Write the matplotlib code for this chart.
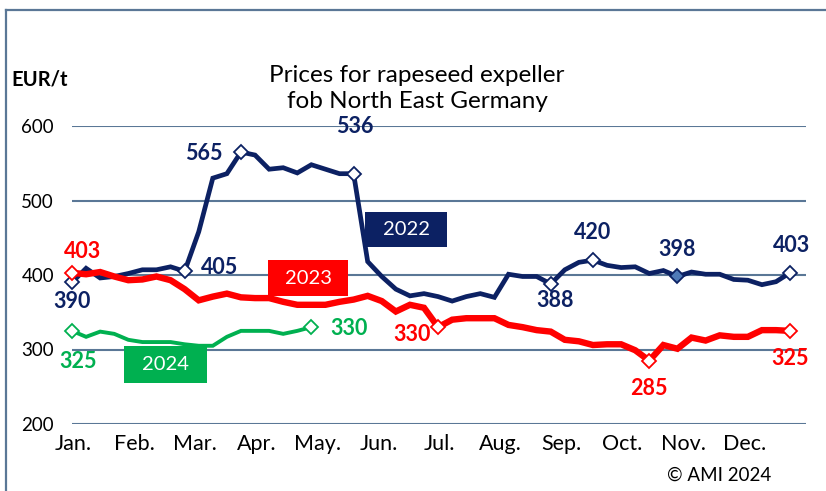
import matplotlib.pyplot as plt
from matplotlib.lines import Line2D
from matplotlib.patches import Rectangle

# weekly prices, EUR/t (52 weeks)
prices_2022 = [390, 409, 396, 398, 402, 407, 407, 411, 405, 458,
               530, 536, 565, 561, 542, 544, 537, 548, 542, 536,
               536, 418, 398, 381, 372, 375, 371, 365, 371, 375,
               370, 401, 398, 398, 388, 407, 417, 420, 413, 410,
               411, 402, 406, 398, 404, 401, 401, 394, 393, 387,
               391, 403]
prices_2023 = [403, 401, 404, 398, 393, 394, 398, 393, 381, 366,
               371, 375, 370, 369, 369, 364, 360, 360, 360, 364,
               367, 372, 365, 351, 360, 356, 330, 340, 342, 342,
               342, 333, 330, 326, 324, 313, 311, 306, 307, 307,
               299, 285, 306, 301, 316, 312, 319, 317, 317, 326,
               326, 325]
prices_2024 = [325, 317, 324, 321, 313, 310, 310, 310, 307, 305,
               305, 317, 325, 325, 325, 321, 325, 330]

months = ["Jan.", "Feb.", "Mar.", "Apr.", "May.", "Jun.",
          "Jul.", "Aug.", "Sep.", "Oct.", "Nov.", "Dec."]
yticks = [200, 300, 400, 500, 600]

# labelled points: (week index, label offset in px)
marks_2022 = [(0, 0, 19), (8, 35, -4), (12, -37, 1), (20, 1, -47),
              (34, 4, 17), (37, 0, -28), (43, 0, -27), (51, 1, -27)]
marks_2023 = [(0, 11, -21), (26, -26, 7), (41, 0, 28), (51, 0, 28)]
marks_2024 = [(0, 6, 31), (17, 38, 1)]

NAVY = "#0c2163"
RED = "#ff0000"
GREEN = "#00b050"
GRID = "#5a7796"

plt.rcParams["font.family"] = ["Lato", "DejaVu Sans"]

W, H = 826, 491
fig = plt.figure(figsize=(W / 100, H / 100), dpi=100)
ax = fig.add_axes([72 / W, 1 - 424 / H, (806 - 72) / W, (424 - 126) / H])
ax.set_xlim(0, 52.13)
ax.set_ylim(200, 600)

for s in ax.spines.values():
    s.set_visible(False)
ax.set_yticks(yticks)
ax.set_yticklabels([str(v) for v in yticks], fontsize=13.5)
ax.grid(axis="y", color=GRID, linewidth=1.5)
ax.set_axisbelow(True)
ax.set_xticks([k * 52 / 12 + 0.1 for k in range(12)])
ax.set_xticklabels(months, fontsize=15.5)
ax.tick_params(axis="y", length=0, pad=13)
ax.tick_params(axis="x", length=0, pad=7.5)


def draw(values, color, lw, marks, z):
    x = list(range(len(values)))
    ax.plot(x, values, color=color, linewidth=lw, solid_joinstyle="miter",
            zorder=z, clip_on=False)
    for i, dx, dy in marks:
        face = "#4f7ab8" if (color == NAVY and values[i] == 398) else "white"
        ax.plot(i, values[i], marker="D", markersize=7, markerfacecolor=face,
                markeredgecolor=color, markeredgewidth=1.3, zorder=z + 0.5,
                clip_on=False)
        ax.annotate(str(values[i]), (i, values[i]), xytext=(dx * 0.72, -dy * 0.72),
                    textcoords="offset points", ha="center", va="center",
                    color=color, fontsize=15.5, fontweight="bold",
                    annotation_clip=False)


draw(prices_2022, NAVY, 3.4, marks_2022, 3)
draw(prices_2024, GREEN, 2.8, marks_2024, 4)
draw(prices_2023, RED, 4.6, marks_2023, 5)

# legend boxes
for text, color, (x0, y0, x1, y1) in [("2022", NAVY, (365, 212, 447, 247)),
                                      ("2023", RED, (268, 260, 348, 296)),
                                      ("2024", GREEN, (124, 346, 207, 383))]:
    fig.add_artist(Rectangle((x0 / W, 1 - y1 / H), (x1 - x0) / W, (y1 - y0) / H,
                             transform=fig.transFigure, facecolor=color,
                             edgecolor="none", zorder=6))
    fig.text((x0 + x1) / 2 / W, 1 - (y0 + y1) / 2 / H, text, color="white",
             fontsize=14.5, ha="center", va="center", zorder=7)

fig.text(417 / W, 1 - 75 / H, "Prices for rapeseed expeller", fontsize=17.5,
         ha="center", va="center")
fig.text(417 / W, 1 - 102 / H, "fob North East Germany", fontsize=17.5,
         ha="center", va="center")
fig.text(11 / W, 1 - 80 / H, "EUR/t", fontsize=14.5, fontweight="bold",
         ha="left", va="center")
fig.text(719 / W, 1 - 475 / H, "\u00a9 AMI 2024", fontsize=13.5,
         ha="center", va="center")

# outer frame (top and left edges visible)
fig.add_artist(Line2D([6 / W, 6 / W], [0, 1 - 10 / H], color=GRID, linewidth=1.6))
fig.add_artist(Line2D([6 / W, 1], [1 - 10 / H, 1 - 10 / H], color=GRID, linewidth=1.6))

fig.savefig("out.png", dpi=100)
